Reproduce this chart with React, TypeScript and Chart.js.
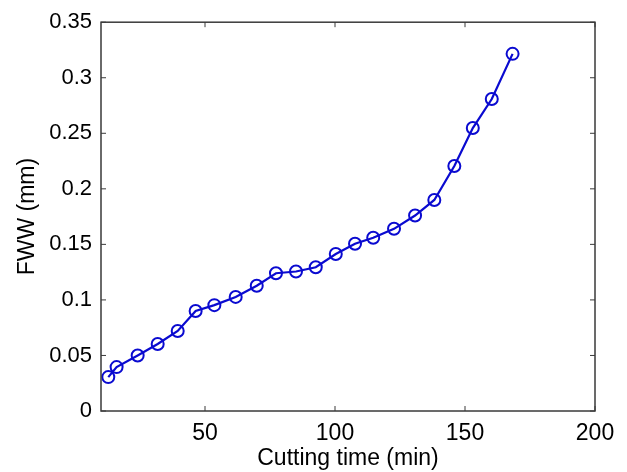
import React, { useEffect, useRef } from "react";
import { Chart, registerables } from "chart.js";

Chart.register(...registerables);

const cuttingTime = [12.8, 16.0, 24.1, 31.8, 39.5, 46.4, 53.6, 61.8, 69.9, 77.3, 85.0, 92.6, 100.3, 107.7, 114.7, 122.7, 130.8, 138.2, 145.9, 153.0, 160.3, 168.3];
const fww = [0.0305, 0.0395, 0.0499, 0.0603, 0.072, 0.090, 0.0953, 0.1027, 0.1128, 0.124, 0.1256, 0.1294, 0.1413, 0.1505, 0.156, 0.164, 0.176, 0.190, 0.2205, 0.2547, 0.2808, 0.3215];
const xTicks = [50, 100, 150, 200];
const yTicks = [0, 0.05, 0.1, 0.15, 0.2, 0.25, 0.3, 0.35];
const yTickLabels = ["0", "0.05", "0.1", "0.15", "0.2", "0.25", "0.3", "0.35"];

const FONT = "'Liberation Sans', Arial, sans-serif";

const framePlugin = {
  id: "matlabFrame",
  afterDatasetsDraw(chart: any) {
    const { ctx, chartArea, scales } = chart;
    const { left, right, top, bottom } = chartArea;
    ctx.save();
    ctx.strokeStyle = "#3a3a3a";
    ctx.lineWidth = 1.5;
    ctx.strokeRect(left, top, right - left, bottom - top);
    const len = 5;
    ctx.lineWidth = 1;
    ctx.beginPath();
    for (const v of xTicks) {
      const px = scales.x.getPixelForValue(v);
      ctx.moveTo(px, bottom);
      ctx.lineTo(px, bottom - len);
      ctx.moveTo(px, top);
      ctx.lineTo(px, top + len);
    }
    for (const v of yTicks) {
      const py = scales.y.getPixelForValue(v);
      ctx.moveTo(left, py);
      ctx.lineTo(left + len, py);
      ctx.moveTo(right, py);
      ctx.lineTo(right - len, py);
    }
    ctx.stroke();
    ctx.restore();
  },
};

export default function App() {
  const ref = useRef<HTMLCanvasElement | null>(null);
  useEffect(() => {
    if (!ref.current) return;
    const data = cuttingTime.map((x, i) => ({ x, y: fww[i] }));
    const chart = new Chart(ref.current, {
      type: "line",
      data: {
        datasets: [
          {
            data,
            borderColor: "#0a0ad0",
            borderWidth: 2.2,
            pointStyle: "circle",
            pointRadius: 6,
            pointBorderWidth: 2,
            pointBorderColor: "#0a0ad0",
            pointBackgroundColor: "rgba(0,0,0,0)",
            tension: 0,
            clip: false as any,
          },
        ],
      },
      options: {
        animation: false,
        responsive: true,
        maintainAspectRatio: false,
        layout: { padding: { left: 0, top: 18, right: 32, bottom: 0 } },
        plugins: { legend: { display: false }, tooltip: { enabled: false } },
        scales: {
          x: {
            type: "linear",
            min: 10,
            max: 200,
            afterBuildTicks: (scale: any) => {
              scale.ticks = xTicks.map((v) => ({ value: v }));
            },
            afterFit: (scale: any) => {
              scale.height = 61;
            },
            grid: { display: false, drawTicks: false },
            border: { display: false },
            ticks: {
              color: "#000",
              padding: 9,
              maxRotation: 0,
              font: { family: FONT, size: 23 },
              callback: (v: any) => String(v),
            },
            title: {
              display: true,
              text: "Cutting time (min)",
              color: "#000",
              font: { family: FONT, size: 23 },
              padding: { top: 0, bottom: 0 },
            },
          },
          y: {
            type: "linear",
            min: 0,
            max: 0.35,
            afterBuildTicks: (scale: any) => {
              scale.ticks = yTicks.map((v) => ({ value: v }));
            },
            afterFit: (scale: any) => {
              scale.width = 101;
            },
            grid: { display: false, drawTicks: false },
            border: { display: false },
            ticks: {
              color: "#000",
              padding: 9,
              font: { family: FONT, size: 22 },
              callback: (v: any) => {
                const i = yTicks.findIndex((t) => Math.abs(t - Number(v)) < 1e-9);
                return i >= 0 ? yTickLabels[i] : "";
              },
            },
            title: {
              display: true,
              text: "FWW (mm)",
              color: "#000",
              font: { family: FONT, size: 23 },
              padding: { top: 14, bottom: 0 },
            },
          },
        },
      },
      plugins: [framePlugin],
    });
    return () => chart.destroy();
  }, []);
  return (
    <div style={{ position: "fixed", left: 0, top: 0, width: 627, height: 472, background: "#fff" }}>
      <canvas ref={ref} />
    </div>
  );
}
